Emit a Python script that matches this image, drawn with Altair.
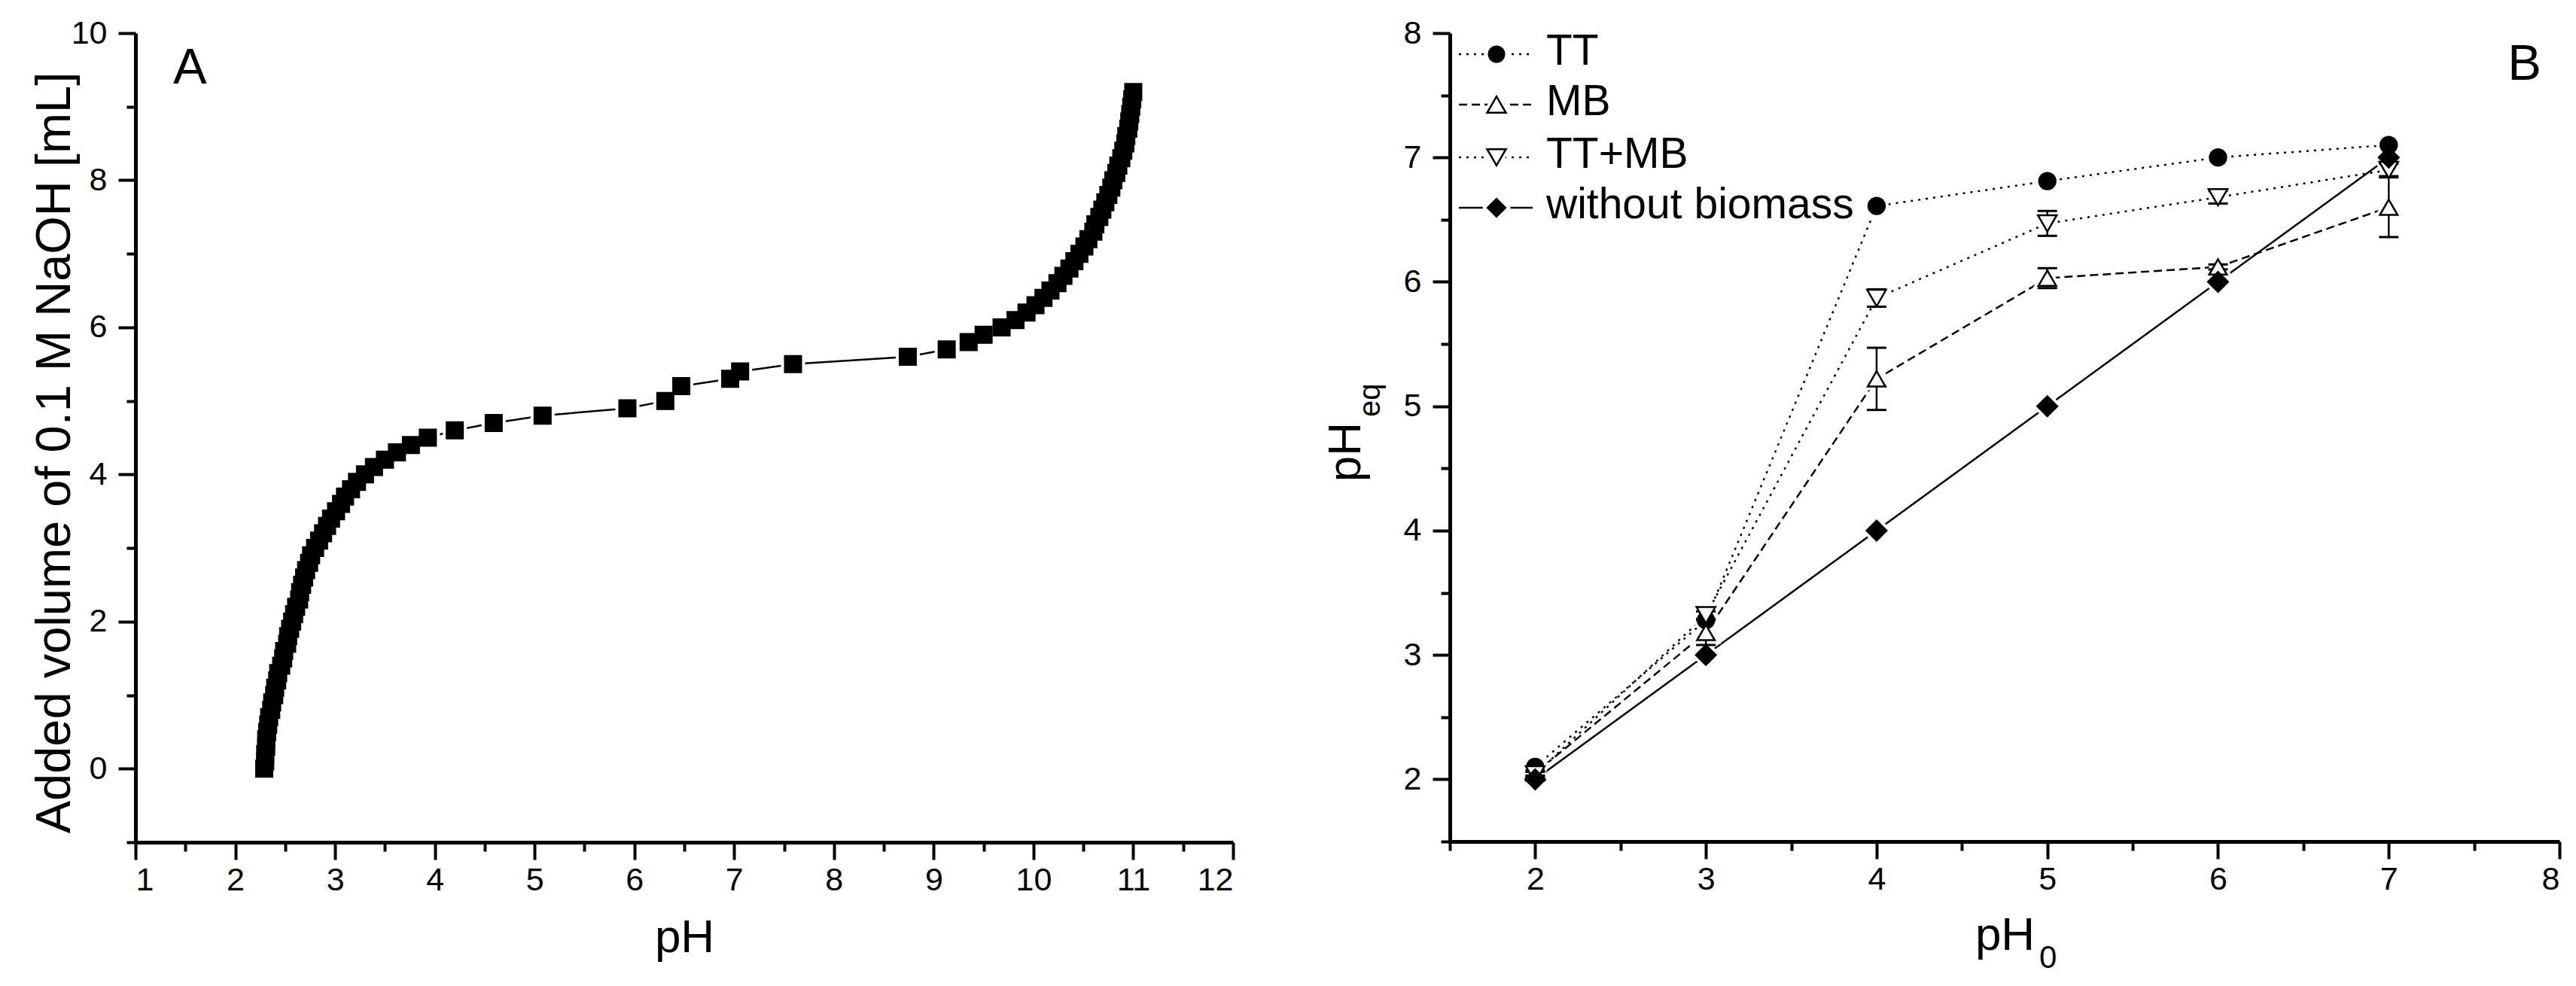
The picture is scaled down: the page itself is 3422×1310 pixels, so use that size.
import altair as alt
import pandas as pd

FONT = "Liberation Sans"

# ---------------- Panel A: titration curve ----------------
vol_a = [0.0, 0.1, 0.2, 0.3, 0.4, 0.5, 0.6, 0.7, 0.8, 0.9,
         1.0, 1.1, 1.2, 1.3, 1.4, 1.5, 1.6, 1.7, 1.8, 1.9,
         2.0, 2.1, 2.2, 2.3, 2.4, 2.5, 2.6, 2.7, 2.8, 2.9,
         3.0, 3.1, 3.2, 3.3, 3.4, 3.5, 3.6, 3.7, 3.8, 3.9,
         4.0, 4.1, 4.2, 4.3, 4.4, 4.5, 4.6, 4.7, 4.8, 4.9,
         5.0, 5.2, 5.3, 5.4, 5.5, 5.6, 5.7, 5.8, 5.9,
         6.0, 6.1, 6.2, 6.3, 6.4, 6.5, 6.6, 6.7, 6.8, 6.9,
         7.0, 7.1, 7.2, 7.3, 7.4, 7.5, 7.6, 7.7, 7.8, 7.9,
         8.0, 8.1, 8.2, 8.3, 8.4, 8.5, 8.6, 8.7, 8.8, 8.9,
         9.0, 9.1, 9.2]
ph_a = [2.29, 2.30, 2.30, 2.31, 2.31, 2.32, 2.33, 2.34, 2.36, 2.37,
        2.39, 2.40, 2.42, 2.43, 2.46, 2.48, 2.49, 2.52, 2.53, 2.55,
        2.57, 2.59, 2.61, 2.64, 2.65, 2.67, 2.69, 2.71, 2.74, 2.76,
        2.80, 2.84, 2.88, 2.92, 2.96, 3.01, 3.06, 3.10, 3.16, 3.22,
        3.30, 3.39, 3.50, 3.62, 3.76, 3.93, 4.20, 4.59, 5.08, 5.93,
        6.31, 6.47, 6.96, 7.06, 7.59, 8.74, 9.13, 9.35, 9.50,
        9.68, 9.82, 9.93, 10.02, 10.10, 10.17, 10.24, 10.30, 10.36, 10.41,
        10.46, 10.51, 10.55, 10.60, 10.62, 10.66, 10.69, 10.72, 10.75, 10.78,
        10.80, 10.83, 10.85, 10.88, 10.90, 10.92, 10.93, 10.95, 10.96, 10.97,
        10.98, 10.99, 11.00]

# ---------------- Panel B: pH_eq vs pH_0 ----------------
series_names = ["TT", "MB", "TT+MB", "without biomass"]
ph0 = [2, 3, 4, 5, 6, 7]
tt = [2.10, 3.28, 6.61, 6.81, 7.00, 7.10]
tt_err = [0, 0, 0, 0, 0, 0]
mb = [2.05, 3.18, 5.22, 6.03, 6.12, 6.60]
mb_err = [0.02, 0.10, 0.25, 0.08, 0.02, 0.24]
ttmb = [2.04, 3.32, 5.87, 6.47, 6.68, 6.90]
ttmb_err = [0.02, 0.03, 0.07, 0.10, 0.05, 0.05]
wb = [2, 3, 4, 5, 6, 7]
wb_err = [0, 0, 0, 0, 0, 0]

a_ticks_x = [1 + 0.5 * i for i in range(23)]
a_ticks_y = list(range(-1, 11))
b_ticks = [1.5 + 0.5 * i for i in range(14)]

AW, AH = 1458, 1075
BW, BH = 1474, 1074

dfA = pd.DataFrame({"pH": ph_a, "vol": vol_a})

rows = []
for name, vals, errs in zip(series_names, [tt, mb, ttmb, wb], [tt_err, mb_err, ttmb_err, wb_err]):
    for p, v, e in zip(ph0, vals, errs):
        rows.append({"series": name, "ph0": p, "val": v, "lo": v - e, "hi": v + e, "err": e})
dfB = pd.DataFrame(rows)
dfE = dfB[dfB["err"] > 0]


def make_axis(values, major_test, title, title_size=62, **kw):
    return alt.Axis(
        values=values,
        labelExpr="(" + major_test + ") ? format(datum.value, 'd') : ''",
        tickSize={"condition": {"test": "!(" + major_test + ")", "value": 12}, "value": 23},
        title=title,
        titleFontSize=title_size,
        titleFontWeight="normal",
        titleBaseline="alphabetic",
        **kw,
    )


axAx = make_axis(a_ticks_x, "datum.value % 1 === 0", "pH",
                 labelPadding=6, titleY=145, titleX=AW / 2, titleAlign="center")
axAy = make_axis(a_ticks_y, "datum.value % 2 === 0", "Added volume of 0.1 M NaOH [mL]", title_size=65,
                 labelPadding=15, titleX=-88, titleY=557, titleAngle=270, titleAlign="center")

xA = alt.X("pH:Q", scale=alt.Scale(domain=[1, 12], nice=False, zero=False), axis=axAx)
yA = alt.Y("vol:Q", scale=alt.Scale(domain=[-1, 10], nice=False, zero=False), axis=axAy)

lineA = alt.Chart(dfA).mark_line(color="black", strokeWidth=2.5).encode(x=xA, y=yA, order="vol:Q")
haloA = alt.Chart(dfA).mark_point(shape="square", filled=True, fill="white", stroke="white",
                                  strokeWidth=10, size=484, opacity=1).encode(x=xA, y=yA)
ptsA = alt.Chart(dfA).mark_point(shape="square", filled=True, fill="black", stroke="black",
                                 strokeWidth=2, size=484, opacity=1).encode(x=xA, y=yA)
labA = alt.Chart(pd.DataFrame({"t": ["A"]})).mark_text(
    font=FONT, fontSize=67, align="left", baseline="alphabetic", color="black"
).encode(x=alt.value(50), y=alt.value(67), text="t:N")

panelA = alt.layer(lineA, haloA, ptsA, labA).properties(width=AW, height=AH)

# ---- panel B
axBx = make_axis(b_ticks, "datum.value % 1 === 0", "pH",
                 labelPadding=6, titleY=143, titleX=BW / 2, titleAlign="center")
axBy = make_axis(b_ticks, "datum.value % 1 === 0", "pH",
                 labelPadding=15, titleX=-120, titleY=556, titleAngle=270, titleAlign="center")
xsB = alt.Scale(domain=[1.5, 8], nice=False, zero=False)
ysB = alt.Scale(domain=[1.5, 8], nice=False, zero=False)
xB = alt.X("ph0:Q", scale=xsB, axis=axBx)

dash_scale = alt.Scale(domain=series_names, range=[[3, 7], [11, 6], [3, 7], [1, 0]])
shape_scale = alt.Scale(domain=series_names, range=["circle", "triangle-up", "triangle-down", "diamond"])
fill_scale = alt.Scale(domain=series_names, range=["black", "white", "white", "black"])
size_scale = alt.Scale(domain=series_names, range=[480, 700, 700, 700])

linesB = alt.Chart(dfB).mark_line(color="black", strokeWidth=2.5).encode(
    x=xB, y=alt.Y("val:Q", scale=ysB, axis=axBy),
    detail="series:N",
    strokeDash=alt.StrokeDash("series:N", scale=dash_scale, legend=None),
    order="ph0:Q",
)
haloB = alt.Chart(dfB).mark_point(filled=True, fill="white", stroke="white", strokeWidth=10, opacity=1).encode(
    x=xB, y=alt.Y("val:Q", scale=ysB, axis=axBy),
    shape=alt.Shape("series:N", scale=shape_scale, legend=None),
    size=alt.Size("series:N", scale=size_scale, legend=None),
)
errB = alt.Chart(dfE).mark_rule(color="black", strokeWidth=2.5).encode(
    x=xB, y=alt.Y("lo:Q", scale=ysB, axis=axBy), y2="hi:Q"
)
capLo = alt.Chart(dfE).mark_point(shape="stroke", size=26 * 26, color="black", strokeWidth=3, opacity=1).encode(
    x=xB, y=alt.Y("lo:Q", scale=ysB, axis=axBy)
)
capHi = alt.Chart(dfE).mark_point(shape="stroke", size=26 * 26, color="black", strokeWidth=3, opacity=1).encode(
    x=xB, y=alt.Y("hi:Q", scale=ysB, axis=axBy)
)
ptsB = alt.Chart(dfB).mark_point(filled=True, stroke="black", strokeWidth=2.5, opacity=1).encode(
    x=xB, y=alt.Y("val:Q", scale=ysB, axis=axBy),
    shape=alt.Shape("series:N", scale=shape_scale, legend=None),
    size=alt.Size("series:N", scale=size_scale, legend=None),
    fill=alt.Fill("series:N", scale=fill_scale, legend=None),
)

# manual legend (line + symbol + text)
leg_dash = [[3, 7], [11, 6], [3, 7], [1, 0]]
leg_shape = ["circle", "triangle-up", "triangle-down", "diamond"]
leg_fill = ["black", "white", "white", "black"]
leg_size = [420, 620, 620, 560]
leg_rows = [28, 95, 165, 232]
legend_layers = []
for i, name in enumerate(series_names):
    d = pd.DataFrame({"label": [name]})
    ry = leg_rows[i]
    legend_layers.append(alt.Chart(d).mark_rule(color="black", strokeWidth=2.5, strokeDash=leg_dash[i]).encode(
        x=alt.value(12), x2=alt.value(110), y=alt.value(ry)))
    legend_layers.append(alt.Chart(d).mark_point(shape=leg_shape[i], filled=True, fill="white", stroke="white",
                                                 strokeWidth=10, size=leg_size[i], opacity=1).encode(
        x=alt.value(62), y=alt.value(ry)))
    legend_layers.append(alt.Chart(d).mark_point(shape=leg_shape[i], filled=True, fill=leg_fill[i], stroke="black",
                                                 strokeWidth=2.5, size=leg_size[i], opacity=1).encode(
        x=alt.value(62), y=alt.value(ry)))
    legend_layers.append(alt.Chart(d).mark_text(font=FONT, fontSize=57, align="left", baseline="middle",
                                                color="black").encode(
        x=alt.value(128), y=alt.value(ry - 3), text="label:N"))

labB = alt.Chart(pd.DataFrame({"t": ["B"]})).mark_text(
    font=FONT, fontSize=67, align="right", baseline="alphabetic", color="black"
).encode(x=alt.value(1450), y=alt.value(62), text="t:N")
subX = alt.Chart(pd.DataFrame({"t": ["0"]})).mark_text(
    font=FONT, fontSize=42, align="left", baseline="alphabetic", color="black"
).encode(x=alt.value(783), y=alt.value(1242), text="t:N")
subY = alt.Chart(pd.DataFrame({"t": ["eq"]})).mark_text(
    font=FONT, fontSize=40, align="left", baseline="alphabetic", angle=270, color="black"
).encode(x=alt.value(-93), y=alt.value(510), text="t:N")

panelB = alt.layer(linesB, haloB, errB, capLo, capHi, ptsB, *legend_layers, labB, subX, subY).properties(
    width=BW, height=BH)

chart = alt.hconcat(panelA, panelB, spacing=288, bounds="flush").properties(
    padding={"left": 31, "top": 15, "right": 5, "bottom": 5}
).configure(font=FONT).configure_view(stroke=None).configure_axis(
    domainColor="black", domainWidth=5, tickColor="black", tickWidth=4,
    labelColor="black", labelFontSize=43, labelFont=FONT,
    titleFont=FONT, titleColor="black", grid=False,
)

chart.save("out.html", embed_options={"renderer": "svg", "actions": False})
